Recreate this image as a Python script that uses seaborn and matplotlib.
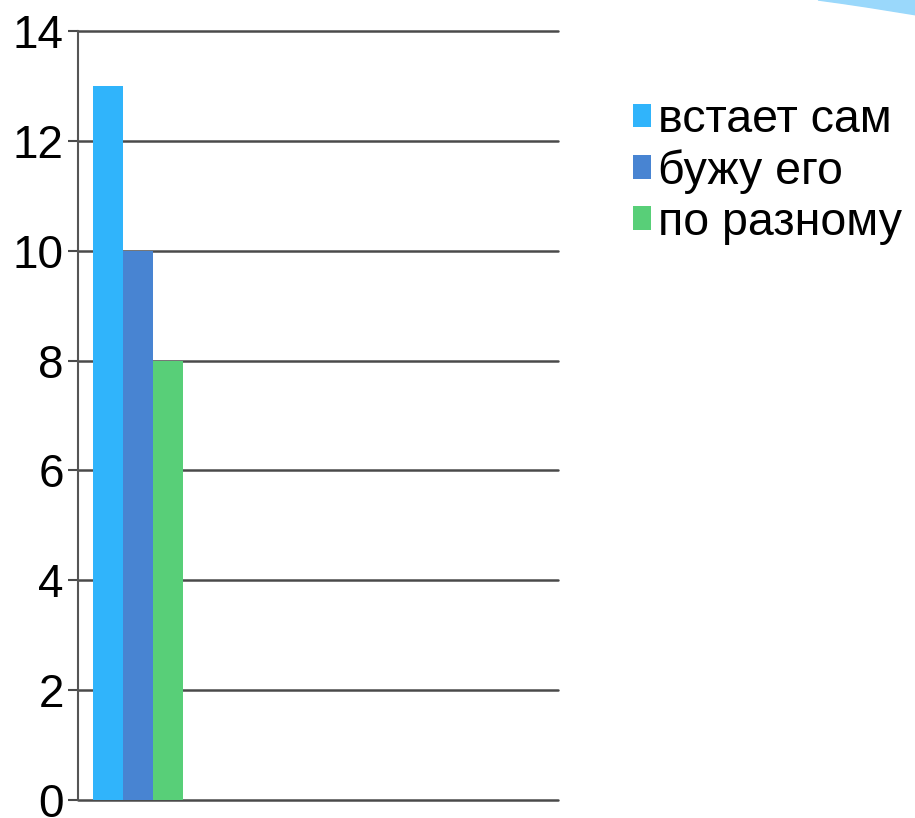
import pandas as pd
import matplotlib.pyplot as plt
import seaborn as sns
from matplotlib.patches import Polygon

# Data
categories = ["1"]
series = ["встает сам", "бужу его", "по разному"]
values = [13, 10, 8]
colors = ["#30B4FB", "#4884D2", "#58CF78"]
y_ticks = [0, 2, 4, 6, 8, 10, 12, 14]

data = pd.DataFrame({
    "category": categories * len(series),
    "series": series,
    "value": values,
})

sns.set_style("white")
plt.rcParams['font.family'] = ['Liberation Sans', 'DejaVu Sans']
plt.rcParams['text.color'] = 'black'

fig = plt.figure(figsize=(9.15, 8.18), dpi=100)
ax = fig.add_axes([0.0852, 0.022, 0.5246, 0.940])

sns.barplot(data=data, x="category", y="value", hue="series",
            palette=colors, saturation=1, width=0.8, ax=ax, linewidth=0)

ax.set_ylim(0, 14)
ax.set_xlim(-0.533, 3.733)
ax.set_yticks(y_ticks)
ax.set_yticklabels([str(t) for t in y_ticks], fontsize=33)
ax.set_xticks([])
ax.set_xlabel("")
ax.set_ylabel("")

# horizontal gridlines
for t in y_ticks:
    ax.axhline(t, color="#4a4a4a", lw=1.8, zorder=0.5, clip_on=False)
ax.tick_params(axis="y", length=7.2, width=1.5, color="#4a4a4a", pad=3,
               direction="out", left=True, labelcolor="black")
for side in ["top", "right", "bottom"]:
    ax.spines[side].set_visible(False)
ax.spines["left"].set_color("#555555")
ax.spines["left"].set_linewidth(1.5)

leg = ax.legend(loc="upper left", bbox_to_anchor=(1.117, 0.937), frameon=False,
                fontsize=33.5, handlelength=0.4, handleheight=0.4,
                handletextpad=0.15, labelspacing=0.15, borderaxespad=0)

# light blue decoration in the top-right corner
fig.patches.append(Polygon([[0.894, 1.0], [1.0, 1.0], [1.0, 0.982], [0.95, 0.991],
                            [0.92, 0.996]], closed=True,
                           transform=fig.transFigure, color="#9AD8FB", zorder=0))

fig.savefig("out.png", dpi=100)
